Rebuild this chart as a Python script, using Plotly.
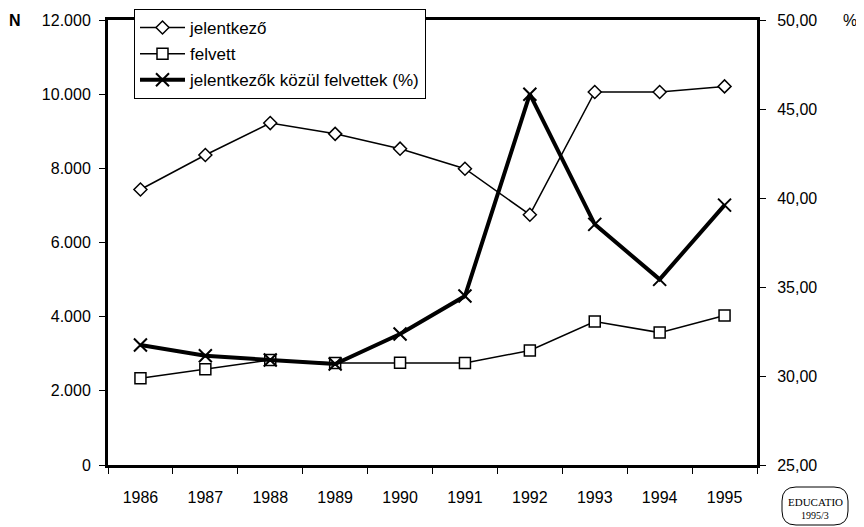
import plotly.graph_objects as go

years = ["1986", "1987", "1988", "1989", "1990", "1991", "1992", "1993", "1994", "1995"]
jelentkezo = [7430, 8360, 9220, 8930, 8530, 7990, 6750, 10060, 10060, 10210]
felvett = [2340, 2580, 2830, 2750, 2760, 2750, 3090, 3870, 3570, 4030]
arany = [31.74, 31.14, 30.90, 30.67, 32.36, 34.49, 45.83, 38.52, 35.43, 39.60]

left_ticks = [0, 2000, 4000, 6000, 8000, 10000, 12000]
right_ticks = [25, 30, 35, 40, 45, 50]

FONT = "Liberation Sans, Arial, sans-serif"
FS = 16

# page body has an 8px margin; figure is placed at (8, 8)
OFF = 8
W, H = 864 - OFF, 527 - OFF
# plot area in page pixels
L, R, T, B = 108, 757, 20, 465

fig = go.Figure()
fig.add_trace(go.Scatter(
    x=years, y=jelentkezo, name="jelentkező", mode="lines+markers",
    line=dict(color="black", width=1.5),
    marker=dict(symbol="diamond", size=10, color="white", line=dict(color="black", width=1.5)),
    legendgroup="a", yaxis="y"))
fig.add_trace(go.Scatter(
    x=years, y=felvett, name="felvett", mode="lines+markers",
    line=dict(color="black", width=1.5),
    marker=dict(symbol="square", size=11, color="white", line=dict(color="black", width=1.5)),
    legendgroup="b", yaxis="y"))
fig.add_trace(go.Scatter(
    x=years, y=arany, name="jelentkezők közül felvettek (%)", mode="lines+markers",
    line=dict(color="black", width=4),
    marker=dict(symbol="x-thin", size=13, color="black", line=dict(color="black", width=2)),
    legendgroup="c", yaxis="y2"))

fig.update_layout(
    width=W, height=H,
    margin=dict(l=L - OFF, r=W - (R - OFF), t=T - OFF, b=H - (B - OFF), pad=0, autoexpand=False),
    paper_bgcolor="white", plot_bgcolor="white",
    separators=",.",
    font=dict(family=FONT, size=FS, color="black"),
    showlegend=True,
    legend=dict(
        x=(134 - L) / (R - L), y=(B - 9) / (B - T), xanchor="left", yanchor="top",
        bgcolor="white", bordercolor="black", borderwidth=1,
        font=dict(family=FONT, size=17, color="black"),
        tracegroupgap=1, itemwidth=45,
    ),
    xaxis=dict(
        type="category", range=[-0.5, 9.5], showgrid=False, zeroline=False,
        showline=True, linecolor="black", linewidth=3, mirror=True,
        ticks="outside", ticklen=6, tickcolor="black", tickwidth=1,
        tickson="boundaries", tickfont=dict(family=FONT, size=FS),
        ticklabelstandoff=16,
    ),
    yaxis=dict(
        range=[0, 12000], tickvals=left_ticks, tickformat=",.0f",
        showgrid=False, zeroline=False,
        showline=True, linecolor="black", linewidth=3,
        ticks="outside", ticklen=6, tickcolor="black", tickwidth=1,
        tickfont=dict(family=FONT, size=FS), ticklabelstandoff=5,
    ),
    yaxis2=dict(
        range=[25, 50], tickvals=right_ticks, tickformat=".2f",
        overlaying="y", side="right", showgrid=False, zeroline=False,
        showline=True, linecolor="black", linewidth=3,
        ticks="outside", ticklen=6, tickcolor="black", tickwidth=1,
        tickfont=dict(family=FONT, size=FS), ticklabelstandoff=8,
    ),
)

def px(x):
    return (x - L) / (R - L)

def py(y):
    return (B - y) / (B - T)

def label(text, x, y, font):
    fig.add_annotation(text=text, xref="paper", yref="paper", x=px(x), y=py(y),
                       xanchor="center", yanchor="middle", showarrow=False, font=font)

label("<b>N</b>", 15, 20, dict(family=FONT, size=16))
label("%", 850, 20, dict(family=FONT, size=FS))

# EDUCATIO logo
x0, x1, y0, y1 = 782, 848, 487, 525
r = 14
path = (f"M {px(x0 + r)},{py(y0)} L {px(x1 - r)},{py(y0)} "
        f"Q {px(x1)},{py(y0)} {px(x1)},{py(y0 + r)} L {px(x1)},{py(y1 - r)} "
        f"Q {px(x1)},{py(y1)} {px(x1 - r)},{py(y1)} L {px(x0 + r)},{py(y1)} "
        f"Q {px(x0)},{py(y1)} {px(x0)},{py(y1 - r)} L {px(x0)},{py(y0 + r)} "
        f"Q {px(x0)},{py(y0)} {px(x0 + r)},{py(y0)} Z")
fig.add_shape(type="path", path=path, xref="paper", yref="paper",
              line=dict(color="black", width=1))
label("EDUCATIO", 815, 502, dict(family="Liberation Serif, serif", size=11))
label("1995/3", 815, 515, dict(family="Liberation Serif, serif", size=10))

fig.write_html("out.html")
